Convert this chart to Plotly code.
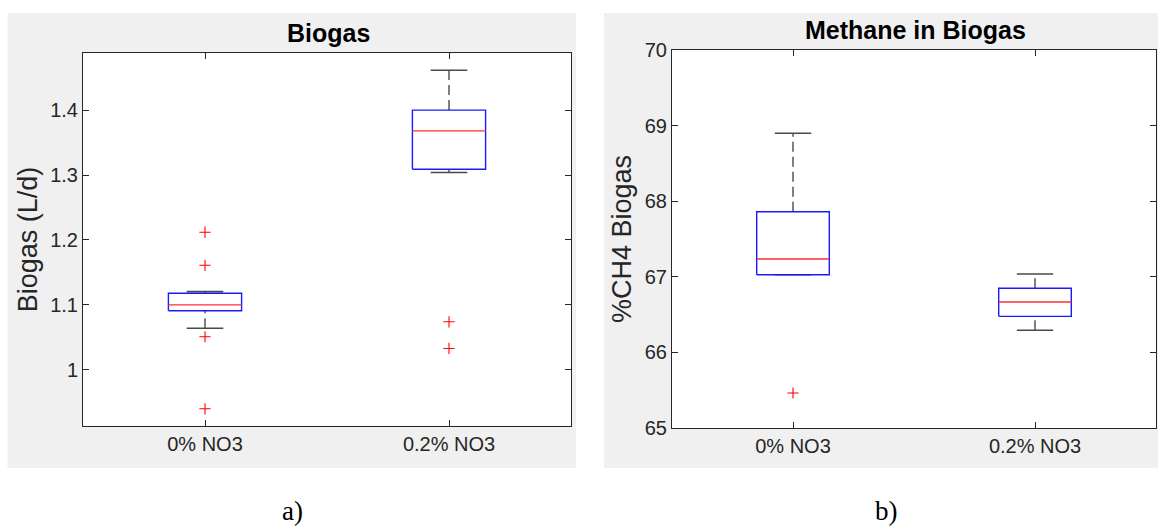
import plotly.graph_objects as go

# ---------------- data ----------------
categories = ["0% NO3", "0.2% NO3"]

biogas_lower = [1.064, 1.304]
biogas_q1 = [1.091, 1.309]
biogas_median = [1.100, 1.368]
biogas_q3 = [1.118, 1.400]
biogas_upper = [1.1205, 1.4615]
biogas_outliers = [[1.212, 1.161, 1.051, 0.940], [1.074, 1.033]]

ch4_lower = [67.028, 66.292]
ch4_q1 = [67.028, 66.477]
ch4_median = [67.235, 66.667]
ch4_q3 = [67.861, 66.848]
ch4_upper = [68.898, 67.037]
ch4_outliers = [[65.463], []]

biogas_ticks = [1, 1.1, 1.2, 1.3, 1.4]
ch4_ticks = [65, 66, 67, 68, 69, 70]

# ---------------- layout helpers ----------------
W, H = 1158, 528
def fx(px):
    return px / W
def fy(px):
    return 1 - px / H

BOX_HALF = 0.15
CAP_HALF = 0.075
AX_COLOR = "#262626"
FONT = "Liberation Sans"

fig = go.Figure()

def add_boxes(lower, q1, med, q3, upper, outliers, xa, ya):
    pos = list(range(1, len(categories) + 1))
    # dashed whiskers
    wx, wy = [], []
    for p, lo, a, b, up in zip(pos, lower, q1, q3, upper):
        if up > b:
            wx += [p, p, None]; wy += [b, up, None]
        if lo < a:
            wx += [p, p, None]; wy += [lo, a, None]
    fig.add_trace(go.Scatter(x=wx, y=wy, mode="lines", xaxis=xa, yaxis=ya,
                             line=dict(color="#4a4a4a", width=1.4, dash="10px,5px"),
                             hoverinfo="skip", showlegend=False))
    # caps
    cx, cy = [], []
    for p, lo, up in zip(pos, lower, upper):
        cx += [p - CAP_HALF, p + CAP_HALF, None, p - CAP_HALF, p + CAP_HALF, None]
        cy += [up, up, None, lo, lo, None]
    fig.add_trace(go.Scatter(x=cx, y=cy, mode="lines", xaxis=xa, yaxis=ya,
                             line=dict(color="#4a4a4a", width=1.6),
                             hoverinfo="skip", showlegend=False))
    # boxes
    bx, by = [], []
    for p, a, b in zip(pos, q1, q3):
        bx += [p - BOX_HALF, p + BOX_HALF, p + BOX_HALF, p - BOX_HALF, p - BOX_HALF, None]
        by += [a, a, b, b, a, None]
    fig.add_trace(go.Scatter(x=bx, y=by, mode="lines", xaxis=xa, yaxis=ya,
                             line=dict(color="#1a1aff", width=1.4),
                             hoverinfo="skip", showlegend=False))
    # medians
    mx, my = [], []
    for p, m in zip(pos, med):
        mx += [p - BOX_HALF, p + BOX_HALF, None]
        my += [m, m, None]
    fig.add_trace(go.Scatter(x=mx, y=my, mode="lines", xaxis=xa, yaxis=ya,
                             line=dict(color="#ff3030", width=1.4),
                             hoverinfo="skip", showlegend=False))
    # outliers
    ox, oy = [], []
    for p, outs in zip(pos, outliers):
        for v in outs:
            ox.append(p); oy.append(v)
    fig.add_trace(go.Scatter(x=ox, y=oy, mode="markers", xaxis=xa, yaxis=ya,
                             marker=dict(symbol="cross-thin", size=8,
                                         line=dict(color="#ff0000", width=1.1)),
                             hoverinfo="skip", showlegend=False))

add_boxes(biogas_lower, biogas_q1, biogas_median, biogas_q3, biogas_upper,
          biogas_outliers, "x", "y")
add_boxes(ch4_lower, ch4_q1, ch4_median, ch4_q3, ch4_upper,
          ch4_outliers, "x2", "y2")

# panel geometry (pixels)
L1 = (83, 571, 53.3, 425.7)   # left, right, top, bottom
L2 = (672, 1156, 50, 428)

tickfont = dict(family=FONT, size=20, color=AX_COLOR)
titlefont = dict(family=FONT, size=27, color=AX_COLOR)

def xaxis_cfg(geom):
    l, r, t, b = geom
    return dict(domain=[fx(l), fx(r)], range=[0.5, 2.5],
                tickvals=[1, 2], ticktext=categories,
                showline=True, linecolor=AX_COLOR, linewidth=1, mirror="ticks",
                ticks="inside", ticklen=6, tickcolor=AX_COLOR, tickwidth=1,
                showgrid=False, zeroline=False, tickfont=tickfont,
                automargin=False, fixedrange=True)

def yaxis_cfg(geom, rng, ticks, title, standoff):
    l, r, t, b = geom
    return dict(domain=[fy(b), fy(t)], range=rng,
                tickvals=ticks, ticktext=[f"{v:g}" for v in ticks],
                showline=True, linecolor=AX_COLOR, linewidth=1, mirror="ticks",
                ticks="inside", ticklen=6, tickcolor=AX_COLOR, tickwidth=1,
                showgrid=False, zeroline=False, tickfont=tickfont,
                title=dict(text=title, font=titlefont, standoff=standoff),
                automargin=False, fixedrange=True)

shapes = []
for gx0, gx1 in [(7.5, 576), (604, 1158)]:
    shapes.append(dict(type="rect", xref="paper", yref="paper", layer="below",
                       x0=fx(gx0), x1=fx(gx1), y0=fy(468), y1=fy(13),
                       fillcolor="#f0f0f0", line=dict(width=0)))
for g in (L1, L2):
    l, r, t, b = g
    shapes.append(dict(type="rect", xref="paper", yref="paper", layer="below",
                       x0=fx(l), x1=fx(r), y0=fy(b), y1=fy(t),
                       fillcolor="white", line=dict(width=0)))

annotations = [
    dict(text="Biogas", x=fx(328), y=fy(33), xref="paper", yref="paper",
         showarrow=False, xanchor="center", yanchor="middle",
         font=dict(family=FONT, size=25, color="black", weight="bold")),
    dict(text="Methane in Biogas", x=fx(915), y=fy(30), xref="paper", yref="paper",
         showarrow=False, xanchor="center", yanchor="middle",
         font=dict(family=FONT, size=25, color="black", weight="bold")),
    dict(text="a)", x=fx(292), y=fy(511), xref="paper", yref="paper",
         showarrow=False, xanchor="center", yanchor="middle",
         font=dict(family="Liberation Serif", size=27, color="black")),
    dict(text="b)", x=fx(886), y=fy(511), xref="paper", yref="paper",
         showarrow=False, xanchor="center", yanchor="middle",
         font=dict(family="Liberation Serif", size=27, color="black")),
]

fig.update_layout(
    width=W, height=H,
    margin=dict(l=0, r=0, t=0, b=0, autoexpand=False),
    paper_bgcolor="white", plot_bgcolor="white",
    xaxis=xaxis_cfg(L1),
    yaxis=yaxis_cfg(L1, [0.914, 1.4875], biogas_ticks, "Biogas (L/d)", 4),
    xaxis2=xaxis_cfg(L2),
    yaxis2=yaxis_cfg(L2, [65, 70], ch4_ticks, "%CH4 Biogas", 5),
    shapes=shapes,
    annotations=annotations,
    showlegend=False,
)
fig.update_layout(xaxis2=dict(anchor="y2"), yaxis2=dict(anchor="x2"))

fig.write_html("out.html")
